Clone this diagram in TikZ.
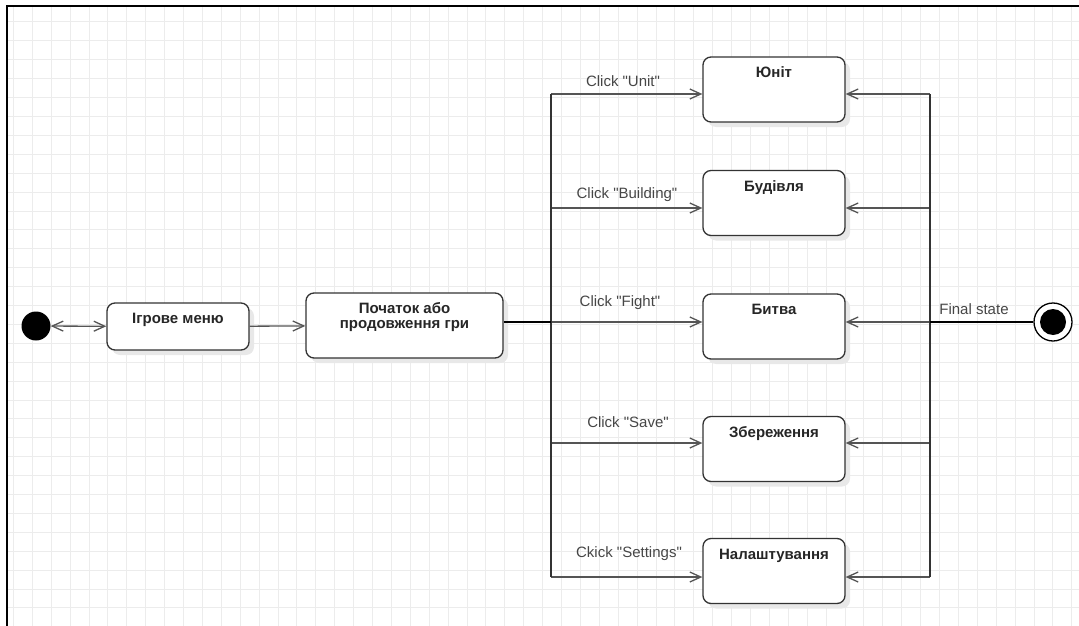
\documentclass[tikz,border=0pt]{standalone}
\usepackage{fontspec}
\setmainfont{Liberation Sans}[Ligatures=TeXOff]
\usetikzlibrary{arrows.meta,shadows}
\definecolor{gridgray}{RGB}{236,236,236}
\definecolor{linegray}{RGB}{85,85,85}
\definecolor{textgray}{RGB}{70,70,70}
\tikzset{
  >={Straight Barb[length=11pt,width=10pt]},
  stbox/.style={draw=black!80, line width=1.3pt, rounded corners=8pt, fill=white,
    drop shadow={shadow xshift=5pt, shadow yshift=-5pt, fill=black!9, opacity=1},
    font=\bfseries\fontsize{15}{15}\selectfont, text=black!85, align=center,
    inner ysep=9.5pt, text height=11pt, text depth=35pt},
  conn/.style={draw=linegray, line width=1.3pt},
  bus/.style={draw=black!80, line width=1.6pt},
  main/.style={draw=black, line width=2pt},
  lbl/.style={font=\fontsize{15}{15}\selectfont, text=textgray, inner sep=0pt}
}

\begin{document}
\begin{tikzpicture}[x=1pt,y=-1pt]
\useasboundingbox (0,0) rectangle (1079,626);
% grid and frame
\foreach \i in {0,...,56} \draw[gridgray, line width=1pt] (13.4+18.9*\i,6) -- (13.4+18.9*\i,626);
\foreach \j in {1,...,32} \draw[gridgray, line width=1pt] (7,3.1+18.9*\j) -- (1079,3.1+18.9*\j);
\draw[black, line width=1.8pt] (1079,6) -- (7,6) -- (7,626);

% states
\node[circle, fill=black, minimum size=29pt, inner sep=0pt] (init) at (36,326) {};
\node[stbox, minimum width=142pt, text depth=17pt] (menu) at (178,326.5) {Ігрове меню};
\node[stbox, minimum width=197pt, text height=26pt, text depth=20pt] (start) at (404.5,325.5) {Початок або\\продовження гри};
\foreach \n/\y/\t in {unit/89.5/Юніт, build/203/Будівля, fight/326.5/Битва, save/449/Збереження, setng/571/Налаштування}
  \node[stbox, minimum width=142pt] (\n) at (774,\y) {\t};
\node[circle, draw=black, line width=1.3pt, fill=white, minimum size=38pt, inner sep=0pt] (final) at (1053,322) {};
\node[circle, fill=black, minimum size=26pt, inner sep=0pt] (finaldot) at (final) {};

% transitions
\draw[conn,<->] (init) -- (menu);
\draw[conn,->] (menu) -- (start);
\foreach \n/\y in {unit/94, build/208, fight/322, save/443, setng/577} {
  \coordinate (l\n) at (551,\y); \coordinate (r\n) at (930,\y);
  \draw[conn,->] (l\n) -- (l\n -| \n.west);
  \draw[conn,->] (r\n) -- (r\n -| \n.east);
}
\draw[bus] (lunit) -- (lsetng);
\draw[bus] (runit) -- (rsetng);
\draw[main] (lfight -| start.east) -- (lfight);
\draw[main] (rfight) -- (final);

% labels
\foreach \n/\x/\y/\t in {unit/623/81/{Click "Unit"}, build/627/195/{Click "Building"},
    fight/620/303/{Click "Fight"}, save/628/422/{Click "Save"}, setng/629/554/{Ckick "Settings"}}
  \node[lbl] (t\n) at (\x,\y) {\t};
\node[lbl] (tfinal) at (974,309) {Final state};
\end{tikzpicture}
\end{document}
